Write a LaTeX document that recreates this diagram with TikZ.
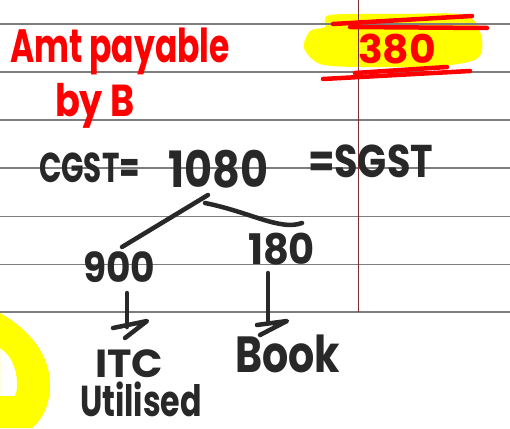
\documentclass[tikz,border=0pt]{standalone}
\usepackage{fontspec}
\setmainfont{Poppins}
\usepackage{graphicx}
\definecolor{hwred}{RGB}{255,0,0}
\definecolor{ink}{RGB}{40,40,40}
\definecolor{rulegray}{RGB}{125,125,125}
\definecolor{marginred}{RGB}{125,45,45}
\definecolor{hl}{RGB}{255,255,0}
\newcommand{\hw}[3]{\resizebox*{#1pt}{#2pt}{#3}}
\begin{document}
\begin{tikzpicture}[x=1pt,y=-1pt,
  txt/.style={inner sep=0pt, outer sep=0pt, anchor=north west, font=\bfseries},
  redtxt/.style={txt, text=hwred},
  blacktxt/.style={txt, text=ink},
  ruleline/.style={draw=rulegray, line width=1.2pt},
  inkline/.style={draw=ink, line width=4.5pt, line cap=round, line join=round},
  redline/.style={draw=hwred, line width=4.5pt, line cap=round}]
\useasboundingbox[fill=white] (0,0) rectangle (510,428);
% highlighter
\fill[hl] plot[smooth cycle] coordinates {(330,15) (400,14) (465,15) (481,35) (478,58) (440,66) (360,67) (320,64) (304,48) (310,31) (325,27)};
\fill[hl, even odd rule] (0,313) .. controls (30,330) and (50,355) .. (50,385) .. controls (50,405) and (42,420) .. (32,428) -- (0,428) -- cycle
  (0,348) .. controls (10,354) and (17,368) .. (17,383) .. controls (17,390) .. (15,396) -- (0,396) -- cycle;
% ruled paper
\foreach \yy in {24,72,120,168,216.5,264.5,312} \draw[ruleline] (0,\yy) -- (510,\yy);
\draw[marginred, line width=1pt] (358,0) -- (358,312);
% red strokes
\draw[redline] (333,24) -- (472,16);
\draw[redline] (350,27) -- (487,28);
\draw[redline] (323,79) -- (470,71);
\draw[redline] (355,73) -- (447,67);
% texts
\node[redtxt] (amt) at (10,28) {\hw{220}{47}{Amt payable}};
\node[redtxt] (byb) at (55,83) {\hw{80}{45}{by B}};
\node[redtxt] (n380) at (358,34) {\hw{78}{30}{380}};
\node[blacktxt] (cgst) at (39,153) {\hw{101}{30}{CGST=}};
\node[blacktxt] (n1080) at (168,150) {\hw{100}{38}{1080}};
\node[blacktxt] (sgst) at (308,145) {\hw{125}{33}{=SGST}};
\node[blacktxt] (n900) at (83,252) {\hw{72}{31}{900}};
\node[blacktxt] (n180) at (248,233) {\hw{67}{32}{180}};
\node[blacktxt] (itc) at (95,350) {\hw{68}{28}{ITC}};
\node[blacktxt] (util) at (80,382) {\hw{122}{35}{Utilised}};
\node[blacktxt] (book) at (235,335) {\hw{105}{38}{Book}};
% connectors
\coordinate (bl0) at (208,195);
\coordinate (bl1) at (122,247);
\coordinate (br0) at (205,203);
\coordinate (br1) at (302,223);
\draw[inkline] (bl0) -- (bl1);
\draw[inkline] (br0) .. controls (250,212) and (280,231) .. (br1);
\coordinate (al0) at (127,293);
\coordinate (al1) at (127,327);
\coordinate (ar0) at (268,273);
\coordinate (ar1) at (268,323);
\draw[inkline] (al0) -- (al1);
\draw[inkline] (113,328) -- (147,321) -- (125,338);
\draw[inkline] (ar0) -- (ar1);
\draw[inkline] (257,325) -- (287,321) -- (260,335);
\end{tikzpicture}
\end{document}
